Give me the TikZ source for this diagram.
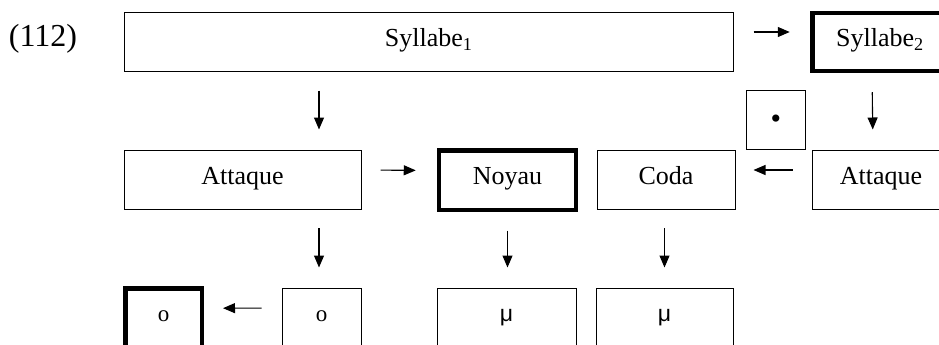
\documentclass[tikz,border=0pt]{standalone}
\usepackage{fontspec}
\setmainfont{Liberation Serif}
\newfontfamily\mufont{Liberation Sans}
\usetikzlibrary{arrows.meta,calc}
\begin{document}
\begin{tikzpicture}[x=1pt,y=-1pt,
  box/.style={draw,line width=1pt,inner sep=0pt,text height=17pt,text depth=8pt,
    font=\fontsize{26}{31}\selectfont},
  bbox/.style={box,line width=4.5pt},
  lowbox/.style={text height=10pt,text depth=12.6pt,minimum height=70pt},
  arr/.style={line width=1.1pt,-{Triangle[length=12pt,width=10pt]}},
]
\useasboundingbox (0,0) rectangle (939,345);
\fill[white] (0,0) rectangle (939,345);
\clip (0,0) rectangle (939,345);

\node[anchor=base,font=\fontsize{32}{38}\selectfont] (num) at (43,47) {(112)};

% top row
\node[box,minimum width=608.5pt,minimum height=59pt] (S1) at (428.75,42) {Syllabe\textsubscript{1}};
\node[bbox,minimum width=135pt,minimum height=58pt] (S2) at (880,42) {Syllabe\textsubscript{2}};

% dot box
\node[box,minimum width=59pt,minimum height=59pt,font=\fontsize{30}{32}\selectfont,text height=17pt,text depth=0pt] (dot) at (775.75,119.5) {•};

% middle row
\node[box,minimum width=237pt,minimum height=59pt] (A1) at (242.5,179.5) {Attaque};
\node[bbox,minimum width=137pt,minimum height=59.5pt] (N) at (507.5,180) {Noyau};
\node[box,minimum width=138pt,minimum height=59pt] (C) at (666,179.5) {Coda};
\node[box,minimum width=138pt,minimum height=59pt] (A2) at (881,179.5) {Attaque};

% bottom row
\node[bbox,lowbox,minimum width=76.5pt,font=\fontsize{23}{27}\selectfont] (o1) at (163.5,323.25) {o};
\node[box,lowbox,minimum width=79pt,font=\fontsize{23}{27}\selectfont] (o2) at (321.5,323) {o};
\node[box,lowbox,minimum width=139pt,font=\fontsize{23}{27}\mufont] (m1) at (506.5,323) {μ};
\node[box,lowbox,minimum width=137pt,font=\fontsize{23}{27}\mufont] (m2) at (664.5,323) {μ};

% arrows
\draw[arr,shorten <=20pt,shorten >=20.5pt] ([yshift=10pt]S1.east) -- ([yshift=10pt]S2.west);
\draw[arr,shorten <=18.5pt,shorten >=20pt] ([xshift=-2.5pt]S1.south -| o2) -- ([xshift=-2.5pt]A1.north -| o2);
\draw[arr,shorten <=19pt,shorten >=20pt] ([xshift=-8pt]S2.south) -- ([xshift=-8pt]A2.north);
\draw[arr,shorten <=19pt,shorten >=21pt] ([yshift=9.5pt]A1.east) -- ([yshift=9.5pt]N.west);
\draw[arr,shorten <=19pt,shorten >=18pt] ([yshift=9.5pt]A2.west) -- ([yshift=9.5pt]C.east);
\draw[arr,shorten <=18.5pt,shorten >=20pt] ([xshift=-2.5pt]A1.south -| o2) -- ([xshift=-2.5pt]o2.north);
\draw[arr,shorten <=18.5pt,shorten >=20pt] (N.south) -- (m1.north -| N.south);
\draw[arr,shorten <=18.5pt,shorten >=20pt] (C.south -| m2) -- (m2.north);
\draw[arr,shorten <=20pt,shorten >=19pt] ([yshift=15pt]o2.west) -- ([yshift=15pt]o1.east);
\end{tikzpicture}
\end{document}
